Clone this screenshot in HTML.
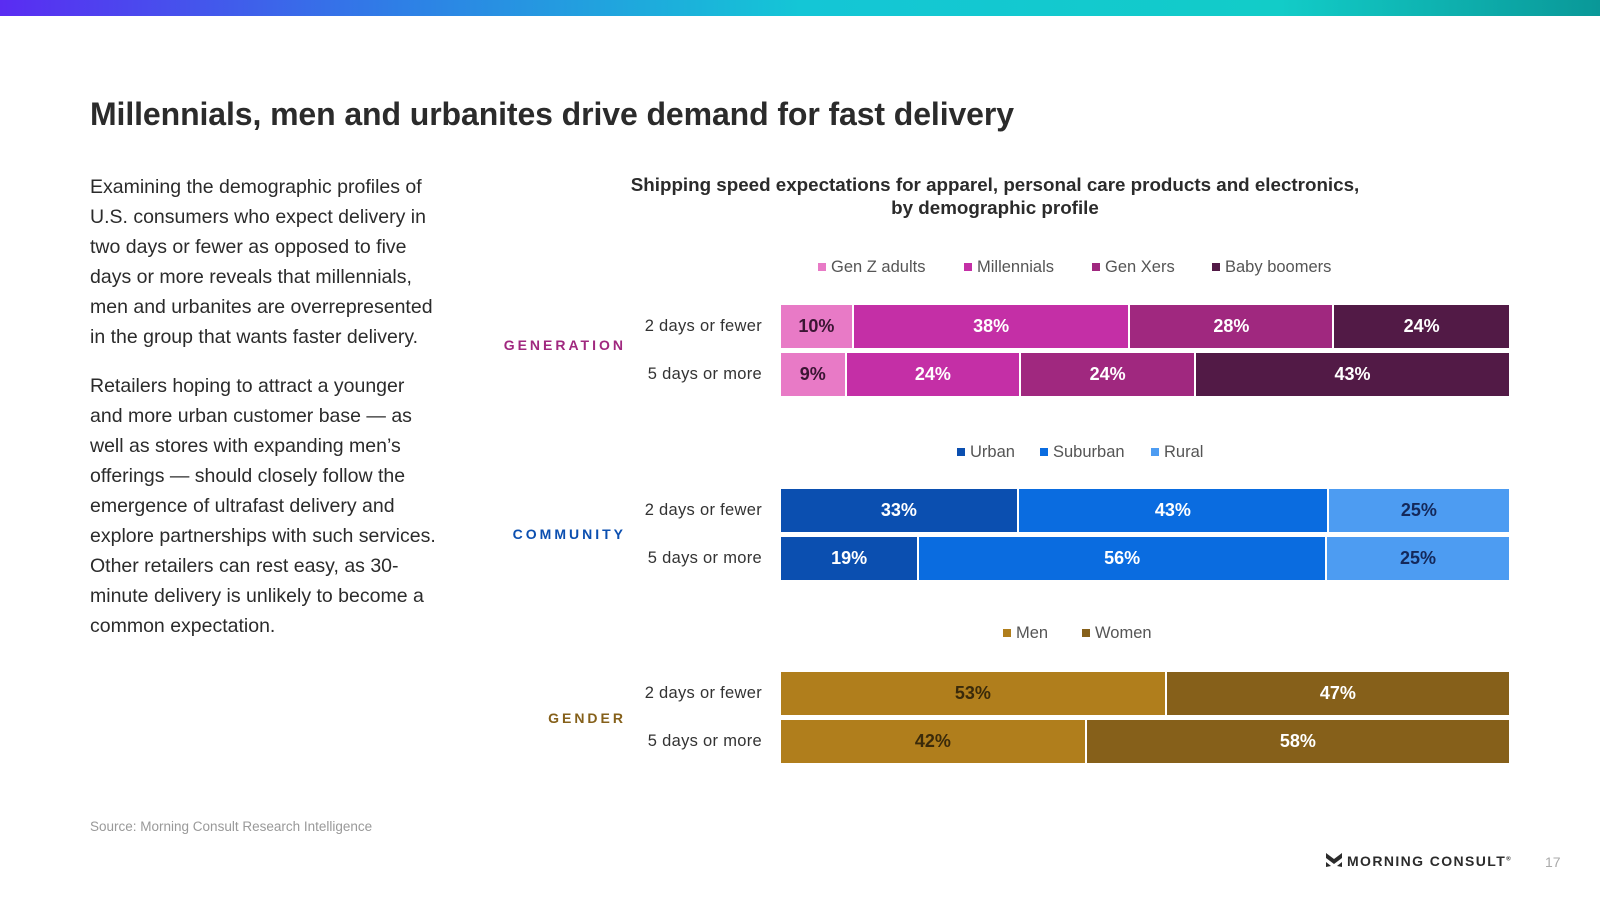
<!DOCTYPE html>
<html><head><meta charset="utf-8"><style>
body{margin:0;width:1600px;height:900px;background:#fff;font-family:"Liberation Sans",sans-serif;position:relative;overflow:hidden;color:#222}
.abs{position:absolute}
#topbar{left:0;top:0;width:1600px;height:16px;background:linear-gradient(90deg,#5a2cf2 0%,#2e7fe6 25%,#14c6d6 50%,#12ccc8 80%,#0a9898 100%)}
#title{left:90px;top:96px;font-size:32px;font-weight:bold;color:#2b2b2b;letter-spacing:-0.1px}
#para{left:90px;top:172px;width:440px;font-size:19.5px;line-height:30px;color:#2b2b2b;white-space:nowrap}
#para p{margin:0 0 19px 0}
#ctitle{left:540px;top:173px;width:910px;text-align:center;font-size:18.8px;font-weight:bold;line-height:23px;color:#2b2b2b}
.leg{font-size:16.5px;color:#555;white-space:nowrap}
.sw{display:inline-block;width:8px;height:8px;margin-right:5px;vertical-align:1px}
.cat{font-size:14px;font-weight:bold;letter-spacing:3px;text-align:right;width:300px}
.rl{font-size:16.5px;color:#333;text-align:right;width:200px;letter-spacing:0.3px}
.seg{position:absolute;height:43px;display:flex;align-items:center;justify-content:center;font-weight:bold;font-size:18px;box-sizing:border-box}
#src{left:90px;top:819px;font-size:13.5px;color:#999}
#logo{left:1326px;top:853px;font-size:14px;font-weight:bold;letter-spacing:1.4px;color:#2b2b2b}
#pg{left:1545px;top:854px;font-size:14px;color:#aaa}
</style></head><body>
<div id="topbar" class="abs"></div>
<div id="title" class="abs">Millennials, men and urbanites drive demand for fast delivery</div>
<div id="para" class="abs">
<p>Examining the demographic profiles of<br>U.S. consumers who expect delivery in<br>two days or fewer as opposed to five<br>days or more reveals that millennials,<br>men and urbanites are overrepresented<br>in the group that wants faster delivery.</p>
<p>Retailers hoping to attract a younger<br>and more urban customer base — as<br>well as stores with expanding men’s<br>offerings — should closely follow the<br>emergence of ultrafast delivery and<br>explore partnerships with such services.<br>Other retailers can rest easy, as 30-<br>minute delivery is unlikely to become a<br>common expectation.</p>
</div>
<div id="ctitle" class="abs">Shipping speed expectations for apparel, personal care products and electronics,<br>by demographic profile</div>
<div id="chart" class="abs" style="left:0;top:0;width:1600px;height:900px"></div>
<div id="src" class="abs">Source: Morning Consult Research Intelligence</div>
<div id="logo" class="abs"><svg width="16" height="14" viewBox="0 0 16 14" style="vertical-align:-1px;margin-right:5px"><path d="M0 0 L8 6 L16 0 L16 5 L8 11 L0 5Z M0 9 L5 13 L0 14Z M16 9 L11 13 L16 14Z" fill="#2b2b2b"/></svg>MORNING CONSULT<sup style="font-size:6px">®</sup></div>
<div id="pg" class="abs">17</div>
<script>
const rowLabels=["2 days or fewer","5 days or more"];
const genSeries=["Gen Z adults","Millennials","Gen Xers","Baby boomers"];
const genFast=[10,38,28,24];
const genSlow=[9,24,24,43];
const comSeries=["Urban","Suburban","Rural"];
const comFast=[33,43,25];
const comSlow=[19,56,25];
const genderSeries=["Men","Women"];
const genderFast=[53,47];
const genderSlow=[42,58];

const X0=781,W=728;
const xs=v=>v/100*W;
const chart=document.getElementById('chart');
function mk(cls,style,txt){const d=document.createElement('div');d.className='abs '+cls;d.style.cssText=style;if(txt!==undefined)d.textContent=txt;chart.appendChild(d);return d;}
const groups=[
 {name:"GENERATION",key:"generation",color:"#a0287f",series:genSeries,rows:[genFast,genSlow],colors:["#e87ac6","#c42fa6","#a0287f","#521a46"],tc:["#3a1533","#fff","#fff","#fff"],legY:258,legX:818,legGap:[0,146,274,394],barY:305,catY:337},
 {name:"COMMUNITY",key:"community",color:"#0b4fb0",series:comSeries,rows:[comFast,comSlow],colors:["#0b4fb0","#0a6ce0","#4d9cf2"],tc:["#fff","#fff","#14285a"],legX:957,legGap:[0,83,194],legY:443,barY:489,catY:526},
 {name:"GENDER",key:"gender",color:"#85601a",series:genderSeries,rows:[genderFast,genderSlow],colors:["#b07e1c","#86601a"],tc:["#3a2a0a","#fff"],legX:1003,legGap:[0,79],legY:624,barY:672,catY:710}
];
groups.forEach(g=>{
 const c=mk('cat',`left:326px;top:${g.catY}px;color:${g.color}`,g.name);
 
 
 g.series.forEach((s,i)=>{
  const l=mk('leg',`left:${g.legX+g.legGap[i]}px;top:${g.legY}px`);
  
  
  l.innerHTML=`<span class="sw" style="background:${g.colors[i]}"></span>${s}`;
 });
 g.rows.forEach((vals,r)=>{
  const y=g.barY+r*48;
  const rl=mk('rl',`left:562px;top:${y+12}px`,rowLabels[r]);
  
  
  const tot=vals.reduce((a,b)=>a+b,0);
  let acc=0;
  vals.forEach((v,i)=>{
   const x=X0+xs(acc/tot*100);const w=xs(v/tot*100);
   const s=mk('seg',`left:${x}px;top:${y}px;width:${w-(i<vals.length-1?2:0)}px;background:${g.colors[i]};color:${g.tc[i]}`,v+'%');
   
   
   acc+=v;
  });
 });
});
</script>
</body></html>
